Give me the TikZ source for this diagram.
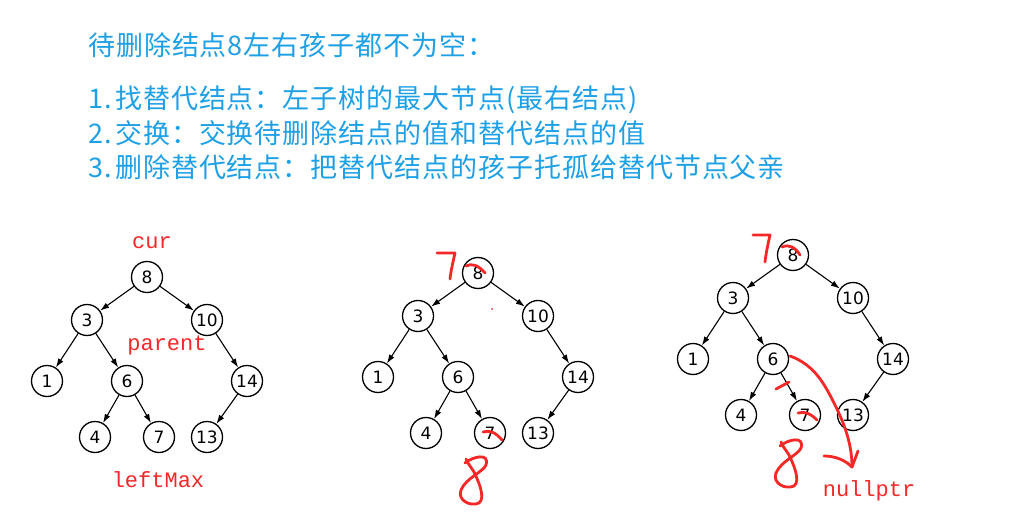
\documentclass[tikz,border=0pt]{standalone}
\usepackage{fontspec}
\newfontfamily\cjk[LetterSpace=3.5]{Noto Sans CJK SC}
\newfontfamily\nodefont{DejaVu Sans}
\newfontfamily\lblfont{Liberation Mono}
\usetikzlibrary{arrows.meta}
\definecolor{tblue}{RGB}{30,160,230}
\definecolor{tred}{RGB}{245,40,40}
\newcommand\bstree[3]{%
\begin{scope}[shift={(#2,#3)}]
\node[tn] (#18) at (0,0) {8};
\node[tn] (#13) at (-60,43) {3};
\node[tn] (#110) at (60,43) {10};
\node[tn] (#11) at (-100,104) {1};
\node[tn] (#16) at (-20,104) {6};
\node[tn] (#114) at (100,104) {14};
\node[tn] (#14) at (-52,160) {4};
\node[tn] (#17) at (12,160) {7};
\node[tn] (#113) at (60,160) {13};
\draw[tedge] (#18) -- (#13);
\draw[tedge] (#18) -- (#110);
\draw[tedge] (#13) -- (#11);
\draw[tedge] (#13) -- (#16);
\draw[tedge] (#16) -- (#14);
\draw[tedge] (#16) -- (#17);
\draw[tedge] (#110) -- (#114);
\draw[tedge] (#114) -- (#113);
\end{scope}}
\newcommand\handeight[2]{%
\begin{scope}[shift={(#1,#2)}]
\draw[ink] (465,463) .. controls (472,457) and (490,452) .. (486,465) .. controls (483,472) and (466,478) .. (461,490) .. controls (457,500) and (470,507) .. (479,503) .. controls (486,498) and (478,480) .. (474,472) .. controls (471,467) and (468,464) .. (466,459);
\end{scope}}
\begin{document}
\begin{tikzpicture}[x=1pt,y=-1pt,
  tn/.style={circle,draw,line width=1.3pt,minimum size=31pt,inner sep=0pt,font=\nodefont\fontsize{17}{17}\selectfont},
  tedge/.style={line width=1.1pt,-{Latex[length=9pt,width=6pt]}},
  lbl/.style={text=tred,inner sep=0pt,font=\lblfont\fontsize{22}{22}\selectfont},
  ink/.style={draw=tred,line width=2.8pt,line cap=round,line join=round},
  cn/.style={text=tblue,anchor=west,inner sep=0pt,font=\cjk\fontsize{27}{27}\selectfont}]
\useasboundingbox[fill=white] (0,0) rectangle (1027,529);
% texts
\node[cn] (title) at (88,45) {待删除结点8左右孩子都不为空：};
\node[cn] (s1) at (88,100) {\makebox[1em][l]{1.}找替代结点：左子树的最大节点(最右结点)};
\node[cn] (s2) at (88,133) {\makebox[1em][l]{2.}交换：交换待删除结点的值和替代结点的值};
\node[cn] (s3) at (88,167) {\makebox[1em][l]{3.}删除替代结点：把替代结点的孩子托孤给替代节点父亲};
% trees
\bstree{a}{147}{277}
\bstree{b}{478}{273}
\bstree{c}{793}{255}
% labels
\node[lbl] (cur) at (152,243) {cur};
\node[lbl] (parent) at (167,345) {parent};
\node[lbl] (leftmax) at (158,480) {leftMax};
\node[lbl] (nullp) at (869,491) {nullptr};
% hand marks tree 2
\draw[ink] (437,253) -- (455,253) .. controls (453,262) and (451,270) .. (450,279);
\draw[ink] (466,266) .. controls (472,263) and (478,265) .. (485,273);
\fill[tred] (492,309) circle (1pt);
\draw[ink] (483,432) .. controls (490,430) and (495,432) .. (502,440);
\handeight{0}{0}
% hand marks tree 3
\draw[ink] (753,235) -- (770,235) .. controls (768,244) and (766,253) .. (765,262);
\draw[ink] (782,247) .. controls (789,244) and (795,247) .. (800,255);
\draw[ink] (798,413) .. controls (805,411) and (811,414) .. (817,420);
\draw[ink] (776,389) -- (789,382);
\draw[ink] (790,356) .. controls (815,365) and (825,385) .. (835,405) .. controls (845,425) and (852,445) .. (852,467);
\draw[ink] (824,456) .. controls (835,456) and (845,460) .. (852,467) -- (858,451);
\handeight{315}{-17}
\end{tikzpicture}
\end{document}
